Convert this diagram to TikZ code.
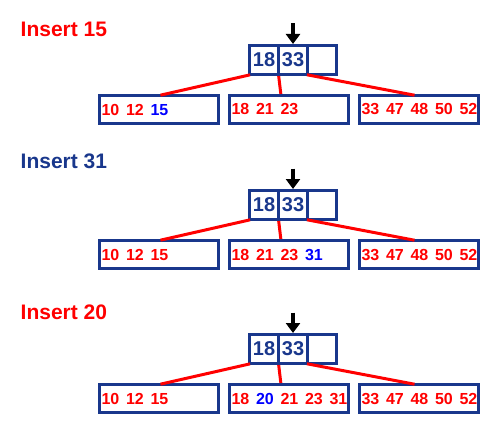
\documentclass[tikz,border=0pt]{standalone}
\usepackage{fontspec}
\setmainfont{Liberation Sans}
\usetikzlibrary{positioning,arrows.meta}
\definecolor{navy}{RGB}{25,55,140}
\newcommand\rk[1]{\makebox[24.5bp][l]{\color{red}#1}}
\newcommand\bk[1]{\makebox[24.5bp][l]{\color{blue}#1}}
\tikzset{
  cell/.style={draw=navy, line width=3bp, minimum size=29bp, inner sep=0pt,
    outer sep=0pt, text=navy, font=\fontsize{20bp}{22bp}\selectfont\bfseries},
  leaf/.style={draw=navy, line width=3bp, minimum height=28bp, text width=115bp,
    inner xsep=2bp, inner ysep=0pt, outer sep=0pt, align=left,
    font=\fontsize{16bp}{18bp}\selectfont\bfseries},
  edge/.style={draw=red, line width=3bp, shorten <=1.5bp, shorten >=1.5bp},
  arr/.style={line width=3.5bp, -{Triangle[width=14bp,length=10bp]}},
  ttl/.style={anchor=base west, inner sep=0pt, font=\fontsize{21bp}{23bp}\selectfont\bfseries}
}
\begin{document}
\begin{tikzpicture}[x=1bp,y=1bp]
  \useasboundingbox (0,0) rectangle (500,428);
  % one panel per insert
  \foreach \ry/\ty/\ttl/\tcol/\la/\lb in {
    368/391/{Insert 15}/red/{\rk{10}\rk{12}\bk{15}}/{\rk{18}\rk{21}\rk{23}},
    223/260/{Insert 31}/navy/{\rk{10}\rk{12}\rk{15}}/{\rk{18}\rk{21}\rk{23}\bk{31}},
    79/109/{Insert 20}/red/{\rk{10}\rk{12}\rk{15}}/{\rk{18}\bk{20}\rk{21}\rk{23}\rk{31}}}{
    \node[ttl, text=\tcol] (title) at (20.5,\ty) {\ttl};
    % root
    \node[cell] (a) at (264,\ry) {18};
    \node[cell, right=0pt of a] (b) {33};
    \node[cell, right=0pt of b] (c) {};
    % leaves
    \node[leaf] (l1) at (159,\ry-49.5) {\la};
    \node[leaf, right=11bp of l1] (l2) {\lb};
    \node[leaf, right=11bp of l2] (l3) {\rk{33}\rk{47}\rk{48}\rk{50}\rk{52}};
    \draw[edge] ([xshift=2bp]a.south west) -- (l1.north);
    \draw[edge] (a.south east) -- ([xshift=-8bp]l2.north);
    \draw[edge] ([xshift=-2bp]b.south east) -- ([xshift=-3bp]l3.north);
    \coordinate (top) at ([yshift=22bp]b.north);
    \draw[arr] (top) -- ([yshift=1.5bp]b.north);
  }
\end{tikzpicture}
\end{document}
